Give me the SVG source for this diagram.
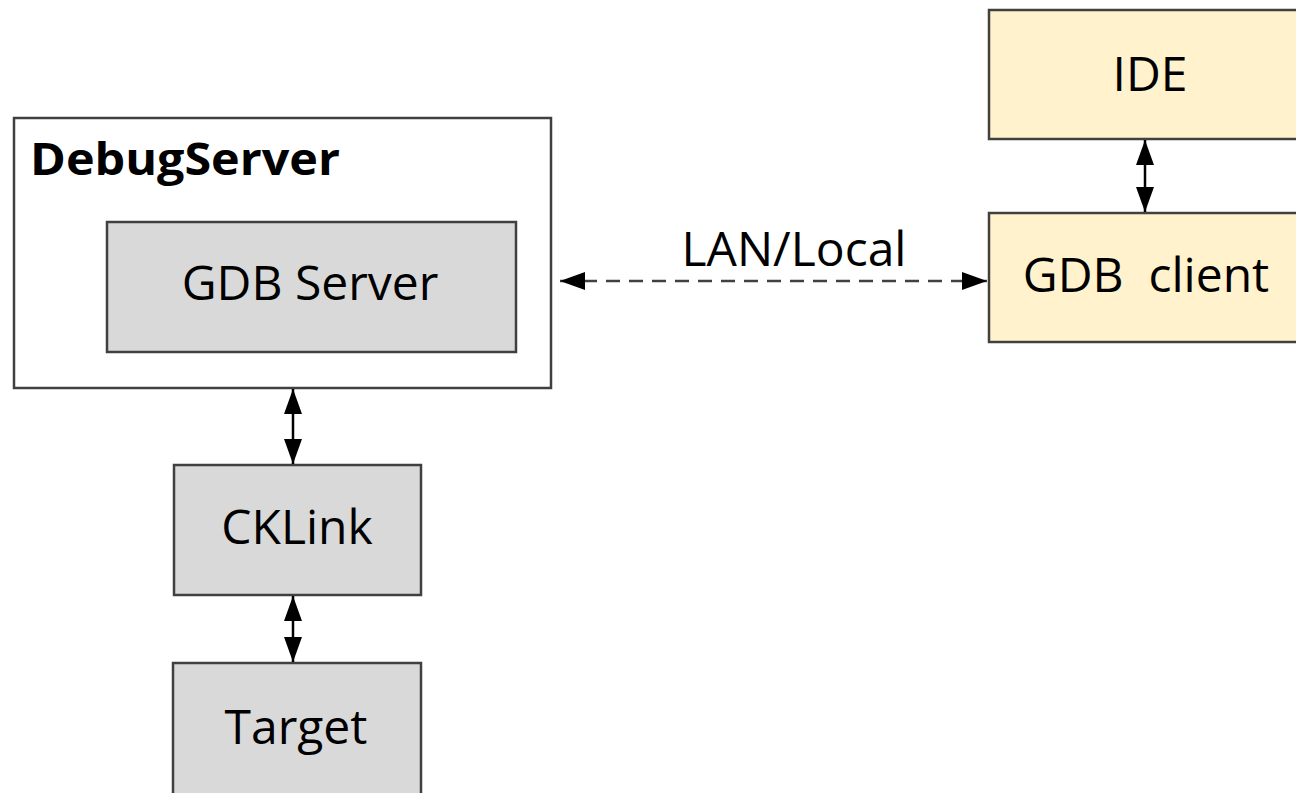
<svg xmlns="http://www.w3.org/2000/svg" width="1296" height="793" viewBox="0 0 1296 793">
<defs>
<style>
.box{stroke:#404040;stroke-width:2.5}
.gray{fill:#d9d9d9}
.yel{fill:#fff2cc}
.t{font-family:"Open Sans","Noto Sans","DejaVu Sans",sans-serif;font-size:48px;fill:#000;text-anchor:middle}
.b{font-family:"Open Sans","Noto Sans","DejaVu Sans",sans-serif;font-size:45px;font-weight:bold;fill:#000}
.c{stroke:#000;stroke-width:2.5;fill:none}
.d{stroke:#404040;stroke-width:2.5;fill:none;stroke-dasharray:14,9}
</style>
<marker id="ah" viewBox="0 0 25 18" refX="25" refY="9" markerWidth="25" markerHeight="18" markerUnits="userSpaceOnUse" orient="auto-start-reverse">
<path d="M0,0 L25,9 L0,18 z" fill="#000"/>
</marker>
</defs>
<rect width="1296" height="793" fill="#fff"/>
<g id="debugserver">
<rect class="box" x="14" y="118" width="537" height="270" fill="#fff"/>
<text class="b" x="30" y="175" textLength="310" lengthAdjust="spacingAndGlyphs">DebugServer</text>
</g>
<g id="gdbserver">
<rect class="box gray" x="107" y="222" width="409" height="130"/>
<text class="t" x="310" y="300">GDB Server</text>
</g>
<g id="cklink">
<rect class="box gray" x="174" y="465" width="247" height="130"/>
<text class="t" x="297" y="544">CKLink</text>
</g>
<g id="target">
<rect class="box gray" x="173" y="663" width="248" height="140"/>
<text class="t" x="296" y="744">Target</text>
</g>
<g id="ide">
<rect class="box yel" x="989" y="10" width="330" height="129"/>
<text class="t" x="1150" y="91">IDE</text>
</g>
<g id="gdbclient">
<rect class="box yel" x="989" y="213" width="330" height="129"/>
<text class="t" x="1146" y="292" xml:space="preserve">GDB  client</text>
</g>
<g id="connectors">
<line class="d" x1="560" y1="281" x2="987" y2="281" marker-start="url(#ah)" marker-end="url(#ah)"/>
<line class="c" x1="293" y1="389" x2="293" y2="464" marker-start="url(#ah)" marker-end="url(#ah)"/>
<line class="c" x1="293" y1="596" x2="293" y2="662" marker-start="url(#ah)" marker-end="url(#ah)"/>
<line class="c" x1="1145" y1="140" x2="1145" y2="212" marker-start="url(#ah)" marker-end="url(#ah)"/>
<text class="t" x="794" y="266">LAN/Local</text>
</g>
</svg>
